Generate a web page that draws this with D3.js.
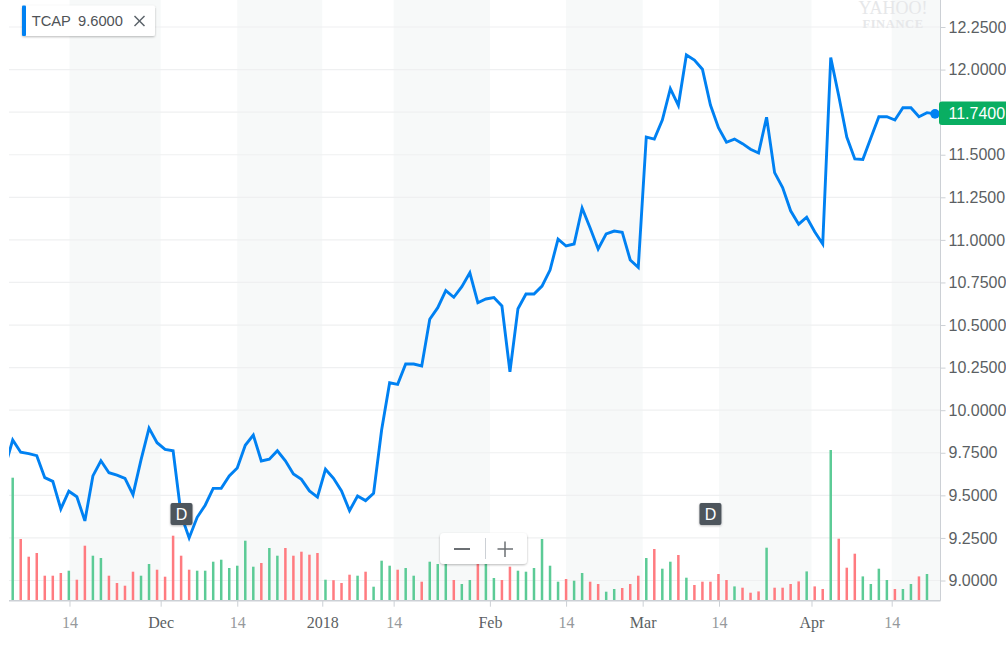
<!DOCTYPE html>
<html>
<head>
<meta charset="utf-8">
<script src="https://cdn.jsdelivr.net/npm/d3@7"></script>
<style>
  html, body { margin: 0; padding: 0; background: #fff; }
  svg { display: block; }
</style>
</head>
<body>
<div id="chart"></div>
<script>
// trading day closes, first one sits behind the left edge
const prices = [
  9.66, 9.825, 9.753, 9.745, 9.733, 9.604, 9.582, 9.42, 9.524, 9.492,
  9.35, 9.614, 9.703, 9.633, 9.619, 9.6, 9.504, 9.708, 9.895, 9.809,
  9.77, 9.762, 9.385, 9.25, 9.371, 9.442, 9.541, 9.541, 9.614, 9.661,
  9.794, 9.854, 9.702, 9.712, 9.762, 9.703, 9.625, 9.594, 9.526, 9.49,
  9.653, 9.6, 9.526, 9.41, 9.496, 9.469, 9.512, 9.884, 10.161, 10.152,
  10.271, 10.271, 10.26, 10.534, 10.602, 10.702, 10.663, 10.725, 10.807, 10.631,
  10.653, 10.661, 10.612, 10.226, 10.596, 10.682, 10.682, 10.729, 10.823, 11.005,
  10.964, 10.976, 11.187, 11.07, 10.947, 11.035, 11.052, 11.045, 10.882, 10.839,
  11.604, 11.592, 11.704, 11.888, 11.79, 12.086, 12.056, 12.002, 11.792, 11.659,
  11.573, 11.592, 11.565, 11.532, 11.51, 11.72, 11.395, 11.307, 11.171, 11.092,
  11.133, 11.048, 10.976, 12.07, 11.845, 11.604, 11.475, 11.472, 11.598, 11.723,
  11.723, 11.704, 11.776, 11.776, 11.723, 11.747, 11.74
];

// volume per day, thousands of shares (estimated)
const volumes = [
  0, 123, 61.7, 44, 47.7, 25, 25, 27.7, 30, 21,
  55, 45, 42.7, 25, 17.7, 15, 29, 25, 36.7, 31,
  24, 65, 45, 31, 30, 30, 39, 41, 32.7, 35,
  60, 34, 37.7, 52.7, 45, 52.7, 45, 49, 46, 47.7,
  21, 20.5, 17.7, 26, 25, 29, 14, 40, 35, 31,
  32.7, 25, 19, 39, 36.7, 37, 20.7, 16.7, 20.7, 37,
  37, 22.7, 20.7, 34, 30, 29, 32.7, 61.7, 35, 19,
  21.7, 20, 27.7, 19, 16.7, 9, 11.7, 12.7, 16.7, 25,
  42.7, 51.7, 32, 39, 45.7, 23, 15.7, 19, 19, 26.7,
  20.7, 14.3, 13, 8, 9.3, 53, 13, 13, 16.7, 19.3,
  29.3, 14.3, 11.7, 150.7, 62, 33, 47, 24.3, 16.7, 32,
  20.7, 11.7, 11.7, 16.7, 24.3, 26.7, 0
];

// 1 = green bar, 0 = red bar
const volumeUp = [
  0, 1, 0, 0, 0, 0, 0, 0, 1, 0,
  0, 1, 1, 0, 0, 0, 0, 1, 1, 0,
  0, 0, 0, 0, 1, 1, 1, 1, 1, 1,
  1, 1, 0, 1, 1, 0, 0, 0, 0, 0,
  1, 0, 0, 0, 1, 0, 1, 1, 1, 0,
  1, 1, 0, 1, 1, 1, 0, 1, 1, 0,
  1, 1, 0, 0, 1, 1, 1, 1, 1, 1,
  0, 1, 1, 0, 0, 1, 1, 0, 0, 0,
  1, 0, 1, 1, 0, 1, 0, 0, 0, 0,
  0, 1, 0, 0, 0, 1, 0, 0, 0, 0,
  1, 0, 0, 1, 0, 0, 0, 1, 1, 1,
  1, 0, 1, 1, 0, 1, 0
];

// x axis ticks, in units of trading day index
const tickDays = [8.08, 19.45, 29.0, 39.6, 48.5, 60.5, 70.0, 79.55, 89.07, 100.6, 110.6];
const tickLabels = ["14", "Dec", "14", "2018", "14", "Feb", "14", "Mar", "14", "Apr", "14"];
const priceTicks = [9, 9.25, 9.5, 9.75, 10, 10.25, 10.5, 10.75, 11, 11.25, 11.5, 11.75, 12, 12.25];

// dividend markers, day index
const dividendDays = [22.05, 88];

const seriesName = "TCAP";
const seriesPrev = "9.6000";
const lastPrice = "11.7400";

const width = 1006, height = 645;
const plotLeft = 9, plotRight = 940.5, plotBottom = 600.7;
const sansFont = '"Liberation Sans", Arial, sans-serif';
const serifFont = '"Liberation Serif", Georgia, serif';
const lineBlue = "#0081f2";

const x = d3.scaleLinear().domain([0, 116]).range([4.68, 935]);
const y = d3.scaleLinear().domain([9, 12.25]).range([580.5, 27]);
const yVol = d3.scaleLinear().domain([0, 160]).range([plotBottom, plotBottom - 160]);

const svg = d3.select("#chart").append("svg")
  .attr("width", width)
  .attr("height", height);

const defs = svg.append("defs");
defs.append("clipPath").attr("id", "plot-clip")
  .append("rect")
  .attr("x", plotLeft).attr("y", 0)
  .attr("width", plotRight - plotLeft).attr("height", plotBottom);

const shadow = defs.append("filter").attr("id", "soft-shadow")
  .attr("x", "-20%").attr("y", "-20%").attr("width", "140%").attr("height", "150%");
shadow.append("feDropShadow")
  .attr("dx", 0).attr("dy", 1).attr("stdDeviation", 1.2)
  .attr("flood-color", "#000").attr("flood-opacity", 0.28);

/*
* alternating month bands, each one runs from a "14" tick to the next month
*/
const bandEdges = d3.range(0, tickDays.length, 2).map(i => [
  x(tickDays[i]),
  i + 1 < tickDays.length ? x(tickDays[i + 1]) : plotRight
]);

svg.append("g").selectAll("rect")
  .data(bandEdges)
  .join("rect")
  .attr("x", d => d[0])
  .attr("y", 0)
  .attr("width", d => d[1] - d[0])
  .attr("height", plotBottom)
  .attr("fill", "#f7f9f9");

// grid
svg.append("g").selectAll("line")
  .data(priceTicks)
  .join("line")
  .attr("x1", plotLeft)
  .attr("x2", plotRight)
  .attr("y1", d => y(d))
  .attr("y2", d => y(d))
  .attr("stroke", "#eff0f1")
  .attr("stroke-width", 1.2);

// volume bars
svg.append("g").attr("clip-path", "url(#plot-clip)").selectAll("rect")
  .data(volumes)
  .join("rect")
  .attr("x", (d, i) => x(i) - 1.25)
  .attr("y", d => yVol(d))
  .attr("width", 2.5)
  .attr("height", d => plotBottom - yVol(d))
  .attr("fill", (d, i) => volumeUp[i] ? "#5ccb96" : "#ff7b80");

// price line
const priceLine = d3.line()
  .x((d, i) => x(i))
  .y(d => y(d));

svg.append("path")
  .datum(prices)
  .attr("clip-path", "url(#plot-clip)")
  .attr("d", priceLine)
  .attr("fill", "none")
  .attr("stroke", lineBlue)
  .attr("stroke-width", 2.9)
  .attr("stroke-linejoin", "miter");

// axes
const xAxis = d3.axisBottom(x)
  .tickValues(tickDays)
  .tickSize(6)
  .tickPadding(10)
  .tickFormat((d, i) => tickLabels[i]);

const gx = svg.append("g")
  .attr("transform", "translate(0," + plotBottom + ")")
  .call(xAxis);
gx.select(".domain").remove();
gx.selectAll("line").attr("stroke", "#ccd0d5");
gx.selectAll("text")
  .attr("font-family", serifFont)
  .attr("font-size", 16)
  .attr("fill", (d, i) => tickLabels[i] === "14" ? "#96999c" : "#5b5f63");

svg.append("line")
  .attr("x1", plotLeft).attr("x2", plotRight)
  .attr("y1", plotBottom).attr("y2", plotBottom)
  .attr("stroke", "#ccd0d5")
  .attr("stroke-width", 1.5);

const yAxis = d3.axisRight(y)
  .tickValues(priceTicks)
  .tickSize(5)
  .tickPadding(3)
  .tickFormat(d3.format(".4f"));

const gy = svg.append("g")
  .attr("transform", "translate(" + plotRight + ",0)")
  .call(yAxis);
gy.select(".domain").remove();
gy.selectAll("line").attr("stroke", "#ccd0d5");
gy.selectAll("text")
  .attr("font-family", sansFont)
  .attr("font-size", 16)
  .attr("fill", "#5b5f63");

svg.append("line")
  .attr("x1", plotRight).attr("x2", plotRight)
  .attr("y1", 0).attr("y2", plotBottom)
  .attr("stroke", "#ccd0d5")
  .attr("stroke-width", 1);

// watermark
svg.append("text")
  .attr("x", 893).attr("y", 14)
  .attr("text-anchor", "middle")
  .attr("font-family", serifFont)
  .attr("font-size", 18)
  .attr("fill", "#e6e7e9")
  .text("YAHOO!");
svg.append("text")
  .attr("x", 893).attr("y", 28)
  .attr("text-anchor", "middle")
  .attr("font-family", serifFont)
  .attr("font-weight", "bold")
  .attr("font-size", 12.5)
  .attr("letter-spacing", 0.6)
  .attr("fill", "#e6e7e9")
  .text("FINANCE");

// dividend badges
const badge = svg.append("g").selectAll("g")
  .data(dividendDays)
  .join("g")
  .attr("transform", d => "translate(" + x(d) + ",514)");
badge.append("rect")
  .attr("x", -11).attr("y", -11)
  .attr("width", 22).attr("height", 22)
  .attr("rx", 2)
  .attr("fill", "#4e545c")
  .attr("filter", "url(#soft-shadow)");
badge.append("text")
  .attr("y", 6)
  .attr("text-anchor", "middle")
  .attr("font-family", sansFont)
  .attr("font-size", 16)
  .attr("fill", "#fff")
  .text("D");

// zoom control
const zoomCtl = svg.append("g").attr("transform", "translate(440,533)");
zoomCtl.append("rect")
  .attr("width", 87).attr("height", 31).attr("rx", 4)
  .attr("fill", "#fff")
  .attr("filter", "url(#soft-shadow)");
zoomCtl.append("line")
  .attr("x1", 14).attr("x2", 30).attr("y1", 16).attr("y2", 16)
  .attr("stroke", "#6b6f73").attr("stroke-width", 2);
zoomCtl.append("line")
  .attr("x1", 45.5).attr("x2", 45.5).attr("y1", 5).attr("y2", 26)
  .attr("stroke", "#ccd0d5").attr("stroke-width", 1);
zoomCtl.append("line")
  .attr("x1", 57.5).attr("x2", 73).attr("y1", 16).attr("y2", 16)
  .attr("stroke", "#6b6f73").attr("stroke-width", 1.5);
zoomCtl.append("line")
  .attr("x1", 65).attr("x2", 65).attr("y1", 8.5).attr("y2", 24)
  .attr("stroke", "#6b6f73").attr("stroke-width", 1.5);

// last price marker
svg.append("circle")
  .attr("cx", x(prices.length - 1))
  .attr("cy", y(prices[prices.length - 1]))
  .attr("r", 4.8)
  .attr("fill", lineBlue);

svg.append("path")
  .attr("d", "M1006,101.5H942a3,3 0 0 0 -3,3V122a3,3 0 0 0 3,3H1006Z")
  .attr("fill", "#09ae62");
svg.append("text")
  .attr("x", 948.5).attr("y", 119)
  .attr("font-family", sansFont)
  .attr("font-size", 16)
  .attr("fill", "#fff")
  .text(lastPrice);

// legend chip
const chip = svg.append("g").attr("transform", "translate(22,5.5)");
chip.append("rect")
  .attr("width", 133).attr("height", 30.5).attr("rx", 2)
  .attr("fill", "#fff")
  .attr("filter", "url(#soft-shadow)");
chip.append("rect")
  .attr("width", 4).attr("height", 30.5).attr("rx", 1)
  .attr("fill", lineBlue);
chip.append("text")
  .attr("x", 9.7).attr("y", 20.5)
  .attr("font-family", sansFont)
  .attr("font-size", 14.7)
  .attr("fill", "#4f5357")
  .text(seriesName);
chip.append("text")
  .attr("x", 56).attr("y", 20.5)
  .attr("font-family", sansFont)
  .attr("font-size", 14.7)
  .attr("fill", "#4f5357")
  .text(seriesPrev);
chip.selectAll("line.close")
  .data([[112.5, 10.5, 122.5, 20.5], [122.5, 10.5, 112.5, 20.5]])
  .join("line")
  .attr("class", "close")
  .attr("x1", d => d[0]).attr("y1", d => d[1])
  .attr("x2", d => d[2]).attr("y2", d => d[3])
  .attr("stroke", "#5b6269")
  .attr("stroke-width", 1.5);
</script>
</body>
</html>
